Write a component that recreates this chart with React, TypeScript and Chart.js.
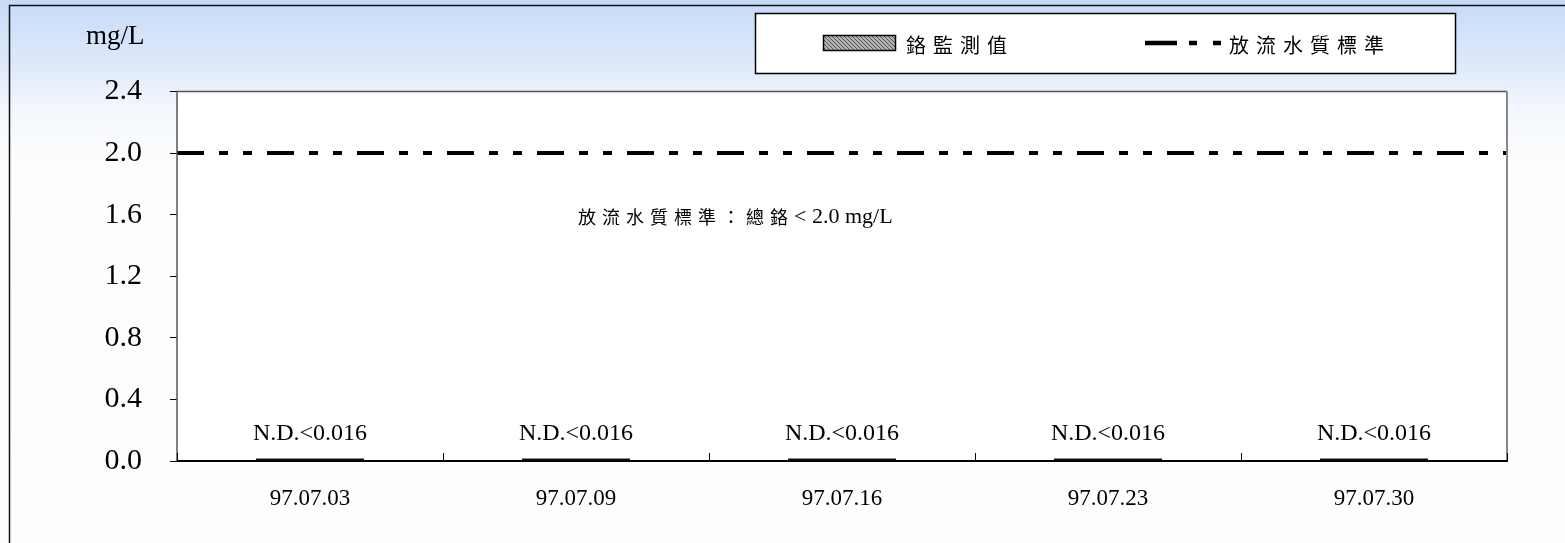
import React, { useEffect, useRef } from 'react';
import { Chart, registerables } from 'chart.js';

Chart.register(...registerables);

// ---- data ----
const categories = ['97.07.03', '97.07.09', '97.07.16', '97.07.23', '97.07.30'];
const chromiumValues = [0.016, 0.016, 0.016, 0.016, 0.016];
const valueLabels = ['N.D.<0.016', 'N.D.<0.016', 'N.D.<0.016', 'N.D.<0.016', 'N.D.<0.016'];
const standardValue = 2.0;
const yTicks = [0, 0.4, 0.8, 1.2, 1.6, 2.0, 2.4];
const seriesNames = ['鉻監測值', '放流水質標準'];
const unitLabel = 'mg/L';
const annotationCJK = '放流水質標準：總鉻';
const annotationLatin = '< 2.0 mg/L';
const annotationValue = 1.6;

const SERIF = "'Liberation Serif', 'Times New Roman', serif";
const CJK = "'Noto Sans CJK TC', 'Noto Sans CJK SC', sans-serif";

function makeHatch(): CanvasPattern | string {
  const c = document.createElement('canvas');
  c.width = 4;
  c.height = 4;
  const g = c.getContext('2d');
  if (!g) return '#888';
  g.fillStyle = '#b0b0b0';
  g.fillRect(0, 0, 4, 4);
  g.strokeStyle = '#555';
  g.lineWidth = 1;
  g.beginPath();
  g.moveTo(0, 0);
  g.lineTo(4, 4);
  g.moveTo(-2, 2);
  g.lineTo(2, 6);
  g.moveTo(2, -2);
  g.lineTo(6, 2);
  g.stroke();
  const p = g.createPattern(c, 'repeat');
  return p || '#888';
}

const decorPlugin = {
  id: 'decor',
  beforeDraw(chart: any) {
    const { ctx, width, height, chartArea } = chart;
    ctx.save();
    const grad = ctx.createLinearGradient(0, 0, 0, height);
    grad.addColorStop(0, '#c6dbf8');
    grad.addColorStop(0.12, '#dfe9fa');
    grad.addColorStop(0.2, '#f3f7fd');
    grad.addColorStop(0.3, '#fdfdfe');
    grad.addColorStop(1, '#fefefe');
    ctx.fillStyle = grad;
    ctx.fillRect(0, 0, width, height);

    // outer frame
    ctx.strokeStyle = '#111';
    ctx.lineWidth = 1.5;
    ctx.beginPath();
    ctx.moveTo(9.5, height);
    ctx.lineTo(9.5, 5.5);
    ctx.lineTo(width, 5.5);
    ctx.stroke();

    // plot area white
    ctx.fillStyle = '#ffffff';
    ctx.fillRect(chartArea.left, chartArea.top, chartArea.right - chartArea.left, chartArea.bottom - chartArea.top);

    // legend box
    ctx.fillStyle = '#ffffff';
    ctx.fillRect(755, 13, 701, 61);
    ctx.strokeStyle = '#000';
    ctx.lineWidth = 1.5;
    ctx.strokeRect(755.5, 13.5, 700, 60);
    ctx.restore();
  },
  afterDatasetsDraw(chart: any) {
    const { ctx, chartArea, scales } = chart;
    const xs = scales.x;
    const ys = scales.y;
    ctx.save();

    // plot border
    ctx.strokeStyle = '#555';
    ctx.lineWidth = 1.5;
    ctx.beginPath();
    ctx.moveTo(chartArea.left, chartArea.bottom);
    ctx.lineTo(chartArea.left, chartArea.top);
    ctx.lineTo(chartArea.right, chartArea.top);
    ctx.stroke();
    ctx.strokeStyle = '#888';
    ctx.lineWidth = 2;
    ctx.beginPath();
    ctx.moveTo(chartArea.right, chartArea.top);
    ctx.lineTo(chartArea.right, chartArea.bottom);
    ctx.stroke();
    ctx.strokeStyle = '#000';
    ctx.lineWidth = 2;
    ctx.beginPath();
    ctx.moveTo(chartArea.left, chartArea.bottom);
    ctx.lineTo(chartArea.right + 1, chartArea.bottom);
    ctx.stroke();

    // inward x ticks at category boundaries
    const step = xs.getPixelForValue(1) - xs.getPixelForValue(0);
    ctx.strokeStyle = '#000';
    ctx.lineWidth = 1;
    for (let i = 0; i <= categories.length; i++) {
      const bx = Math.round(xs.getPixelForValue(0) - step / 2 + i * step) + 0.5;
      ctx.beginPath();
      ctx.moveTo(bx, chartArea.bottom);
      ctx.lineTo(bx, chartArea.bottom - 8);
      ctx.stroke();
    }

    // value labels above bars
    const meta = chart.getDatasetMeta(0);
    ctx.fillStyle = '#000';
    ctx.font = `24px ${SERIF}`;
    ctx.textAlign = 'center';
    ctx.textBaseline = 'middle';
    meta.data.forEach((bar: any, i: number) => {
      ctx.fillText(valueLabels[i], bar.x, bar.y - 25);
    });

    // annotation
    const ay = ys.getPixelForValue(annotationValue) + 2;
    ctx.textAlign = 'left';
    ctx.font = `18px ${CJK}`;
    (ctx as any).letterSpacing = '6px';
    const ax = chartArea.left + 401;
    ctx.fillText(annotationCJK, ax, ay);
    const w1 = ctx.measureText(annotationCJK).width;
    (ctx as any).letterSpacing = '0px';
    ctx.font = `22px ${SERIF}`;
    ctx.fillText(annotationLatin, ax + w1, ay + 1);

    // unit label
    ctx.font = `27px ${SERIF}`;
    ctx.fillText(unitLabel, 86, 37);

    // legend contents
    const hatch = makeHatch();
    ctx.fillStyle = hatch as any;
    ctx.fillRect(823, 35, 73, 16);
    ctx.strokeStyle = '#000';
    ctx.lineWidth = 1.5;
    ctx.strokeRect(823.5, 35.5, 72, 15);
    ctx.fillStyle = '#000';
    ctx.font = `20px ${CJK}`;
    (ctx as any).letterSpacing = '7px';
    ctx.textBaseline = 'middle';
    ctx.fillText(seriesNames[0], 906, 45);
    ctx.fillText(seriesNames[1], 1229, 45);
    (ctx as any).letterSpacing = '0px';

    ctx.strokeStyle = '#000';
    ctx.lineWidth = 4.5;
    ctx.setLineDash([32, 12, 8, 16, 8, 100]);
    ctx.beginPath();
    ctx.moveTo(1145, 43);
    ctx.lineTo(1221, 43);
    ctx.stroke();
    ctx.setLineDash([]);

    ctx.restore();
  },
};

export default function App() {
  const canvasRef = useRef<HTMLCanvasElement | null>(null);

  useEffect(() => {
    const canvas = canvasRef.current;
    if (!canvas) return;
    const chart = new Chart(canvas, {
      type: 'bar',
      data: {
        labels: categories,
        datasets: [
          {
            type: 'bar',
            label: seriesNames[0],
            data: chromiumValues,
            backgroundColor: '#111',
            borderWidth: 0,
            grouped: false,
            barPercentage: 1,
            categoryPercentage: 0.406,
            xAxisID: 'x',
            yAxisID: 'y',
          } as any,
          {
            type: 'line',
            label: seriesNames[1],
            data: [
              { x: 0, y: standardValue },
              { x: 1, y: standardValue },
            ],
            borderColor: '#000',
            borderWidth: 4,
            borderDash: [27, 15, 9, 15, 9, 15],
            pointRadius: 0,
            fill: false,
            xAxisID: 'x2',
            yAxisID: 'y',
          } as any,
        ],
      },
      options: {
        animation: false,
        responsive: false,
        maintainAspectRatio: false,
        layout: { padding: { left: 0, top: 91.5, right: 58, bottom: 0 } },
        plugins: {
          legend: { display: false },
          tooltip: { enabled: false },
        },
        scales: {
          x: {
            type: 'category',
            offset: true,
            grid: { display: false },
            border: { display: false },
            ticks: {
              color: '#000',
              font: { family: SERIF, size: 23 },
              padding: 16,
              maxRotation: 0,
            },
            afterFit: (s: any) => {
              s.height = 82;
            },
          },
          x2: {
            type: 'linear',
            min: 0,
            max: 1,
            offset: false,
            display: false,
          },
          y: {
            type: 'linear',
            min: 0,
            max: 2.4,
            afterBuildTicks: (s: any) => {
              s.ticks = yTicks.map((v) => ({ value: v }));
            },
            grid: {
              drawOnChartArea: false,
              drawTicks: true,
              tickLength: 7,
              color: '#000',
              lineWidth: 1,
            },
            border: { display: false },
            ticks: {
              color: '#000',
              font: { family: SERIF, size: 30 },
              padding: 28,
              callback: (v: any) => Number(v).toFixed(1),
            },
            afterFit: (s: any) => {
              s.width = 177;
            },
          },
        },
      } as any,
      plugins: [decorPlugin],
    });
    return () => chart.destroy();
  }, []);

  return (
    <div style={{ position: 'fixed', left: 0, top: 0, width: 1565, height: 543, margin: 0 }}>
      <canvas ref={canvasRef} width={1565} height={543} style={{ display: 'block' }} />
    </div>
  );
}
